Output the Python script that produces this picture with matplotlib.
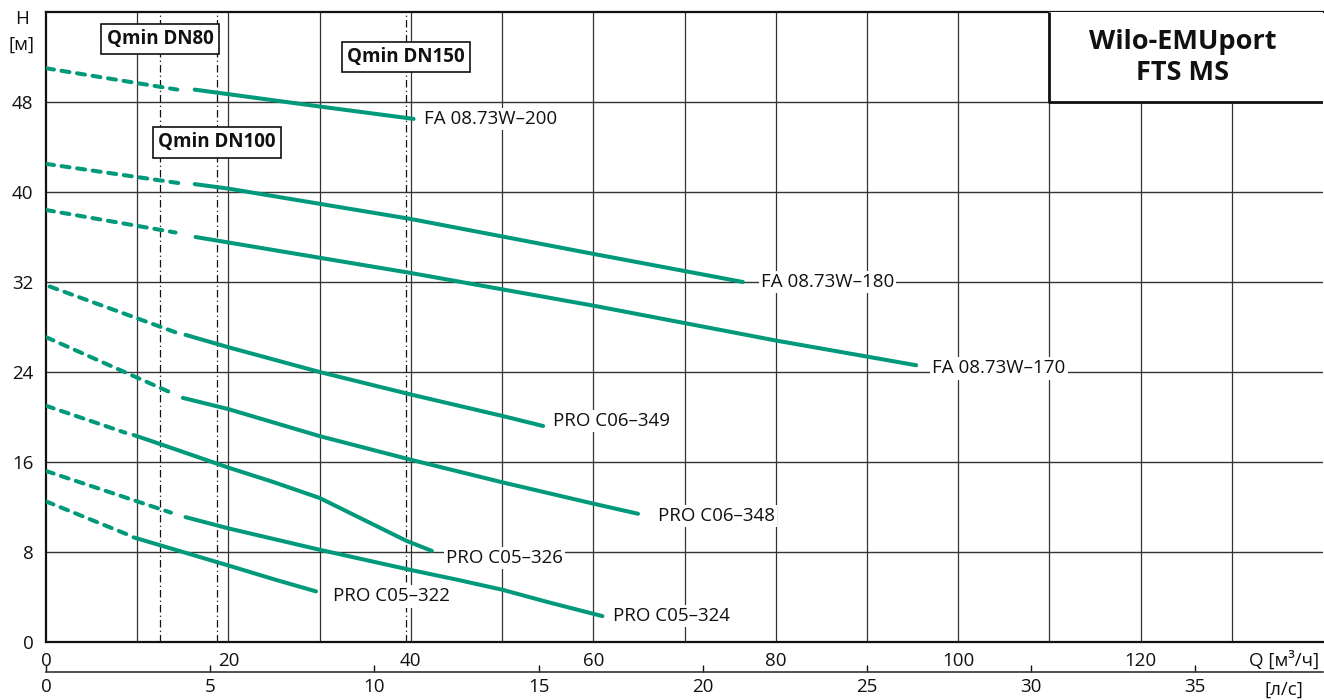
import matplotlib
matplotlib.use('Agg')
import matplotlib.pyplot as plt
from matplotlib.patches import Rectangle

plt.rcParams['font.family'] = ['Open Sans', 'DejaVu Sans']

# ---------------- data ----------------
curve_names = ['FA 08.73W–200', 'FA 08.73W–180', 'FA 08.73W–170',
               'PRO C06–349', 'PRO C06–348', 'PRO C05–326',
               'PRO C05–324', 'PRO C05–322']

# dashed (below Qmin) part of each curve, Q [m3/h] and H [m]
dash_q = [[0, 14.4], [0, 14.5], [0, 14.2], [0.4, 14.3],
          [0, 13.6], [0, 8.7], [0, 13.7], [0, 8.8]]
dash_h = [[51.0, 49.1], [42.5, 40.8], [38.4, 36.4], [31.6, 27.5],
          [27.1, 22.2], [21.0, 18.6], [15.2, 11.5], [12.5, 9.6]]

# solid part of each curve
solid_q = [[16.3, 30, 40.3],
           [16.3, 20, 40, 60, 76.4],
           [16.4, 40, 60, 80, 95.4],
           [15.3, 20, 30, 40, 50, 54.5],
           [15.0, 20, 30, 40, 50, 60, 64.9],
           [9.6, 12.5, 20, 25, 30, 33, 36, 39.5, 42.3],
           [15.3, 20, 30, 40, 45, 50, 55, 61],
           [9.6, 20, 25.3, 29.6]]
solid_h = [[49.1, 47.6, 46.5],
           [40.7, 40.3, 37.6, 34.5, 32.0],
           [36.0, 32.8, 29.9, 26.8, 24.6],
           [27.3, 26.2, 24.0, 22.0, 20.1, 19.2],
           [21.7, 20.7, 18.3, 16.2, 14.2, 12.3, 11.4],
           [18.4, 17.6, 15.5, 14.2, 12.8, 11.6, 10.4, 9.0, 8.1],
           [11.1, 10.1, 8.2, 6.4, 5.55, 4.65, 3.55, 2.3],
           [9.3, 6.8, 5.5, 4.5]]

qmin_names = ['Qmin DN80', 'Qmin DN100', 'Qmin DN150']
qmin_q = [12.5, 18.75, 39.5]

q_ticks = [0, 20, 40, 60, 80, 100, 120]
h_ticks = [0, 8, 16, 24, 32, 40, 48]
ls_ticks = [0, 5, 10, 15, 20, 25, 30, 35]
title_text = 'Wilo-EMUport\nFTS MS'

# ---------------- styling ----------------
GREEN = '#00997A'
INK = '#111111'
FS = 13.5
W, H = 1324, 700
fig = plt.figure(figsize=(W / 100, H / 100), dpi=100)
ax = fig.add_axes([46 / W, 58 / H, 1277 / W, 630 / H])
ax.set_xlim(0, 140)
ax.set_ylim(0, 56)

for s in ['left', 'bottom', 'top']:
    ax.spines[s].set_linewidth(1.6)
    ax.spines[s].set_color(INK)
ax.spines['right'].set_visible(False)

# grid
for q in range(10, 140, 10):
    ax.axvline(q, color='#333333', lw=0.9, zorder=1)
for h in range(8, 56, 8):
    ax.axhline(h, color='#333333', lw=1.0, zorder=1)

# Qmin lines
for q in qmin_q:
    ax.axvline(q, color=INK, lw=0.9, linestyle=(0, (6, 2.5, 1, 2.5)), zorder=2)

# curves
for dq, dh, sq, sh in zip(dash_q, dash_h, solid_q, solid_h):
    ax.plot(dq, dh, color=GREEN, lw=2.9, linestyle=(0, (2.0, 1.9)),
            dash_capstyle='round', zorder=3)
    ax.plot(sq, sh, color=GREEN, lw=2.9, solid_capstyle='round',
            solid_joinstyle='round', zorder=3)

# curve labels (offsets in pixels from curve end)
label_off = [(10, 0), (18, 0), (16, 3), (10, -5), (20, 2), (14, 7), (11, 0), (17, 5)]
for name, sq, sh, (dx, dy) in zip(curve_names, solid_q, solid_h, label_off):
    ax.annotate(name, (sq[-1], sh[-1]), xytext=(dx, -dy), textcoords='offset pixels',
                ha='left', va='center', fontsize=FS, color=INK, zorder=4,
                bbox=dict(boxstyle='square,pad=0.12', fc='white', ec='none'))

# Qmin labels
qmin_label_h = [53.6, 44.4, 52.0]
for name, q, h in zip(qmin_names, qmin_q, qmin_label_h):
    ax.text(q, h, name, ha='center', va='center', fontsize=13.5, fontweight='bold',
            color=INK, zorder=6,
            bbox=dict(boxstyle='square,pad=0.28', fc='white', ec=INK, lw=1.2))

# title box (left and bottom border only, right edge is the figure edge)
ax.add_patch(Rectangle((110, 48), 30, 8, fc='white', ec='none', zorder=5))
ax.plot([110, 110, 140], [56, 48, 48], color=INK, lw=2.0, zorder=5,
        solid_capstyle='butt')
ax.text(124.6, 51.95, title_text, ha='center', va='center', fontsize=19.5,
        fontweight='bold', color=INK, linespacing=1.22, zorder=6)

# ticks
ax.set_xticks(q_ticks)
ax.set_yticks(h_ticks)
ax.tick_params(axis='both', length=0, labelsize=FS, colors=INK)
ax.tick_params(axis='x', pad=7)
ax.tick_params(axis='y', pad=9)

# secondary l/s axis
secax = ax.secondary_xaxis(-30 / 630, functions=(lambda q: q / 3.6, lambda l: l * 3.6))
secax.set_xticks(ls_ticks)
secax.tick_params(direction='in', length=5, width=1, labelsize=FS, pad=4, colors=INK)
secax.spines['bottom'].set_linewidth(1.2)
secax.spines['bottom'].set_color('#333333')

# axis labels
fig.text(1319 / W, 1 - 660 / H, 'Q [м³/ч]', ha='right', va='center', fontsize=FS, color=INK)
fig.text(1303 / W, 1 - 690 / H, '[л/с]', ha='right', va='center', fontsize=FS, color=INK)
fig.text(22 / W, 1 - 19 / H, 'H', ha='center', va='center', fontsize=FS, color=INK)
fig.text(22 / W, 1 - 45 / H, '[м]', ha='center', va='center', fontsize=FS, color=INK)

fig.savefig('out.png', dpi=100)
